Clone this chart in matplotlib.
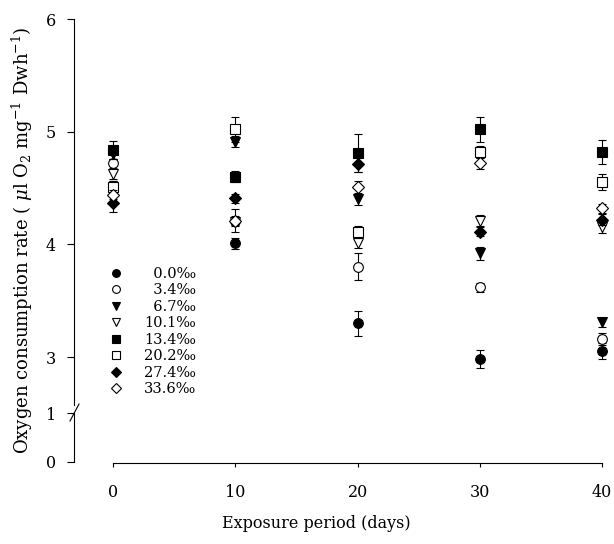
import numpy as np
import matplotlib
matplotlib.use('Agg')
import matplotlib.pyplot as plt
from matplotlib.lines import Line2D

plt.rcParams['font.family'] = ['DejaVu Serif']
plt.rcParams['mathtext.fontset'] = 'dejavuserif'

days = [0, 10, 20, 30, 40]
labels = ['0.0', '3.4', '6.7', '10.1', '13.4', '20.2', '27.4', '33.6']

s00 = [4.52, 4.01, 3.30, 2.98, 3.05]
s34 = [4.72, 4.21, 3.80, 3.62, 3.16]
s67 = [4.80, 4.91, 4.40, 3.92, 3.31]
s101 = [4.62, 4.20, 4.01, 4.21, 4.15]
s134 = [4.84, 4.60, 4.81, 5.02, 4.82]
s202 = [4.51, 5.02, 4.11, 4.82, 4.55]
s274 = [4.37, 4.41, 4.71, 4.11, 4.22]
s336 = [4.44, 4.21, 4.51, 4.72, 4.32]

e00 = [0.04, 0.05, 0.11, 0.08, 0.07]
e34 = [0.04, 0.10, 0.12, 0.04, 0.05]
e67 = [0.04, 0.05, 0.05, 0.06, 0.04]
e101 = [0.04, 0.04, 0.04, 0.05, 0.05]
e134 = [0.08, 0.05, 0.17, 0.11, 0.11]
e202 = [0.05, 0.11, 0.05, 0.05, 0.07]
e274 = [0.08, 0.04, 0.07, 0.04, 0.05]
e336 = [0.04, 0.04, 0.05, 0.05, 0.04]

series = [s00, s34, s67, s101, s134, s202, s274, s336]
errors = [e00, e34, e67, e101, e134, e202, e274, e336]
markers = ['o', 'o', 'v', 'v', 's', 's', 'D', 'D']
filled = [True, False, True, False, True, False, True, False]
msizes = [7, 7, 7, 7, 6.5, 6.5, 6, 6]

W, H = 614, 544
fig = plt.figure(figsize=(W / 100, H / 100), dpi=100)

def px(x0, y0, x1, y1):
    # pixel box (top-left origin) -> figure fraction rect
    return [x0 / W, 1 - y1 / H, (x1 - x0) / W, (y1 - y0) / H]

ax = fig.add_axes(px(74, 19, 607, 405))
axl = fig.add_axes(px(74, 413, 607, 462))

xlim = (-3.2, 40.4)
ax.set_xlim(*xlim)
axl.set_xlim(*xlim)
ax.set_ylim(3 - (405 - 357) / 112.7, 6)
axl.set_ylim(0, 1)

handles = []
for i in range(len(series)):
    fc = 'black' if filled[i] else 'white'
    ax.errorbar(days, series[i], yerr=errors[i], fmt=markers[i], ms=msizes[i],
                mfc=fc, mec='black', mew=0.8, ecolor='black', elinewidth=0.8,
                capsize=3, capthick=0.8, zorder=3 + i, clip_on=False)
    handles.append(Line2D([], [], ls='none', marker=markers[i], ms=msizes[i] * 0.8,
                          mfc=fc, mec='black', mew=0.8))

leg_labels = [('\u2007' if len(l) < 4 else '') + l + '\u2030' for l in labels]
ax.legend(handles, leg_labels, loc='upper left', frameon=False,
          bbox_to_anchor=(109 / W, 1 - 267 / H), bbox_transform=fig.transFigure,
          borderaxespad=0, borderpad=0, handlelength=1.0, handletextpad=1.4,
          labelspacing=0.17, fontsize=10.5)

for a in (ax, axl):
    for s in ('top', 'right'):
        a.spines[s].set_visible(False)
    a.spines['left'].set_linewidth(0.8)
    a.tick_params(axis='y', direction='out', length=5, width=0.8, labelsize=11.5, pad=8)

ax.spines['bottom'].set_visible(False)
ax.tick_params(axis='x', bottom=False, labelbottom=False)
ax.set_yticks([3, 4, 5, 6])

axl.set_yticks([0, 1])
axl.spines['bottom'].set_bounds(0, 40)
axl.spines['bottom'].set_linewidth(0.8)
axl.spines['bottom'].set_position(('outward', 1))
axl.set_xticks(days)
axl.tick_params(axis='x', direction='out', length=3, width=0.8, labelsize=11.5, pad=12)

# axis break mark
fig.add_artist(Line2D([70 / W, 79 / W], [1 - 421 / H, 1 - 404 / H],
                      color='black', lw=0.8, transform=fig.transFigure))

fig.text(22 / W, 1 - 240 / H,
         r'Oxygen consumption rate ( $\mu$l O$_2$ mg$^{-1}$ Dwh$^{-1}$)',
         rotation=90, ha='center', va='center', fontsize=13)
fig.text(316 / W, 1 - 523 / H, 'Exposure period (days)',
         ha='center', va='center', fontsize=11.5)

fig.savefig('out.png', dpi=100)
